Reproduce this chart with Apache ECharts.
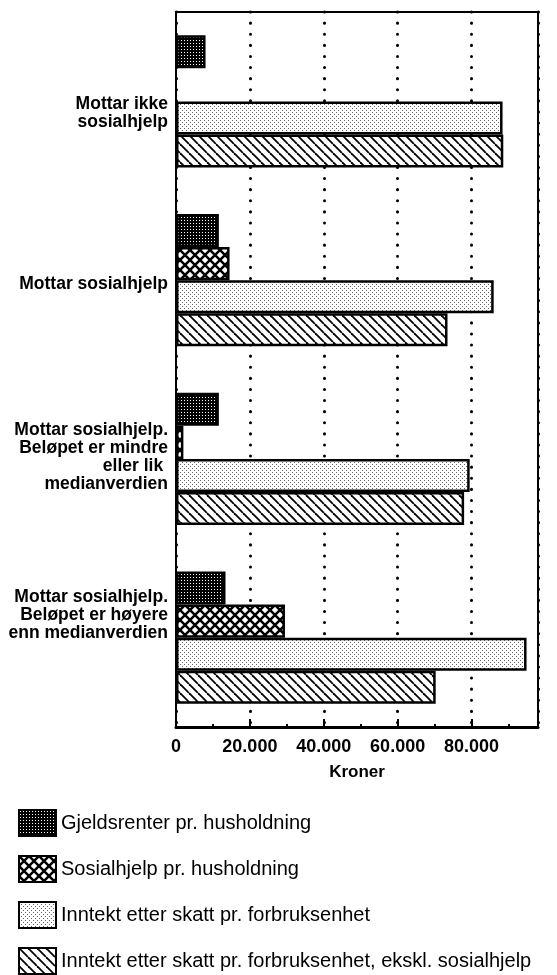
<!DOCTYPE html>
<html>
<head>
<meta charset="utf-8">
<script src="https://cdn.jsdelivr.net/npm/echarts@6/dist/echarts.min.js"></script>
<style>
html, body { margin: 0; padding: 0; background: #fff; }
#chart { width: 557px; height: 975px; }
</style>
</head>
<body>
<div id="chart"></div>
<script>
// kategorier (fra topp til bunn)
const categories = [
    'Mottar ikke\nsosialhjelp',
    'Mottar sosialhjelp',
    'Mottar sosialhjelp.\nBeløpet er mindre\neller lik \nmedianverdien',
    'Mottar sosialhjelp.\nBeløpet er høyere\nenn medianverdien'
]
const seriesNames = [
    'Gjeldsrenter pr. husholdning',
    'Sosialhjelp pr. husholdning',
    'Inntekt etter skatt pr. forbruksenhet',
    'Inntekt etter skatt pr. forbruksenhet, ekskl. sosialhjelp'
]
const gjeldsrenter = [8000, 11600, 11600, 13400]
const sosialhjelp = [null, 14500, 2000, 29500]
const inntekt = [88400, 86000, 79500, 94900]
const inntektEkskl = [88600, 73500, 78000, 70300]
const tickLabels = ['0', '20.000', '40.000', '60.000', '80.000']

// mønster-fyll (rasterert som i trykket)
const makePattern = (type) => {
    const c = document.createElement('canvas')
    const ctx = c.getContext('2d')
    if (type === 'dark') {
        c.width = 3; c.height = 3
        ctx.fillStyle = '#000'
        ctx.fillRect(0, 0, 3, 3)
        ctx.fillStyle = '#fff'
        ctx.fillRect(1, 1, 1, 1)
    } else if (type === 'light') {
        c.width = 4; c.height = 4
        ctx.fillStyle = '#fff'
        ctx.fillRect(0, 0, 4, 4)
        ctx.fillStyle = '#666'
        ctx.fillRect(0, 0, 1, 1)
        ctx.fillRect(2, 2, 1, 1)
    } else if (type === 'cross') {
        c.width = 10; c.height = 10
        ctx.fillStyle = '#fff'
        ctx.fillRect(0, 0, 10, 10)
        ctx.strokeStyle = '#000'
        ctx.lineWidth = 2.5
        for (let k = -10; k <= 10; k += 10) {
            ctx.beginPath()
            ctx.moveTo(k, 0); ctx.lineTo(k + 10, 10)
            ctx.moveTo(k + 10, 0); ctx.lineTo(k, 10)
            ctx.stroke()
        }
    } else {
        c.width = 9; c.height = 9
        ctx.fillStyle = '#fff'
        ctx.fillRect(0, 0, 9, 9)
        ctx.strokeStyle = '#000'
        ctx.lineWidth = 1.8
        for (let k = -9; k <= 9; k += 9) {
            ctx.beginPath()
            ctx.moveTo(k, 0); ctx.lineTo(k + 9, 9)
            ctx.stroke()
        }
    }
    return { image: c, repeat: 'repeat' }
}

const patterns = [makePattern('dark'), makePattern('cross'), makePattern('light'), makePattern('hatch')]
const dataList = [gjeldsrenter, sosialhjelp, inntekt, inntektEkskl]

// etikettene står ikke midt i båndet i originalen (forskyvning i px, + = ned)
const labelShift = [12, 4, -2, -22]
const labelRich = {
    t: { fontSize: 17.5, fontWeight: 'bold', color: '#000', lineHeight: 18, align: 'right' },
}
labelShift.forEach((s, i) => {
    labelRich['g' + i] = { fontSize: 1, lineHeight: Math.abs(s) * 2, align: 'right' }
})
const labelFormatter = (value, index) => {
    const lines = value.split('\n').map(l => '{t|' + l + '}')
    const s = labelShift[index]
    if (s > 0) lines.unshift('{g' + index + '| }')
    else if (s < 0) lines.push('{g' + index + '| }')
    return lines.join('\n')
}

const chart = echarts.init(document.getElementById('chart'), null, { renderer: 'canvas' })

const option = {
    backgroundColor: '#fff',
    animation: false,
    textStyle: {
        fontFamily: 'Liberation Sans, Arial, sans-serif',
        color: '#000',
    },
    grid: {
        left: 176,
        top: 12,
        width: 362,
        height: 715,
        show: true,
        borderColor: '#000',
        borderWidth: 2,
    },
    legend: {
        orient: 'vertical',
        left: 18,
        top: 809,
        height: 170,
        padding: 0,
        icon: 'rect',
        itemWidth: 37,
        itemHeight: 26,
        itemGap: 18,
        data: seriesNames,
        textStyle: {
            fontSize: 20,
            color: '#000',
        },
    },
    xAxis: {
        type: 'value',
        min: 0,
        max: 98000,
        interval: 20000,
        name: 'Kroner',
        nameLocation: 'middle',
        nameGap: 37,
        nameTextStyle: {
            fontSize: 17,
            fontWeight: 'bold',
            color: '#000',
        },
        axisLine: {
            show: true,
            lineStyle: { color: '#000', width: 3 },
        },
        axisTick: {
            show: true,
            inside: true,
            length: 8,
            lineStyle: { color: '#000', width: 2 },
        },
        minorTick: {
            show: true,
            splitNumber: 2,
            length: 3,
            lineStyle: { color: '#000', width: 2 },
        },
        axisLabel: {
            fontSize: 18,
            fontWeight: 'bold',
            color: '#000',
            margin: 11,
            formatter: (v) => {
                const i = Math.round(v / 20000)
                return (v % 20000 === 0 && i < tickLabels.length) ? tickLabels[i] : ''
            },
        },
        splitLine: {
            show: true,
            lineStyle: {
                color: '#000',
                width: 3,
                type: [0.1, 11],
                cap: 'round',
            },
        },
    },
    yAxis: {
        type: 'category',
        inverse: true,
        data: categories,
        axisLine: { show: false },
        axisTick: { show: false },
        axisLabel: {
            align: 'right',
            margin: 8,
            formatter: labelFormatter,
            rich: labelRich,
        },
    },
    series: seriesNames.map((name, i) => ({
        name: name,
        type: 'bar',
        data: dataList[i],
        barGap: 0,
        barCategoryGap: '26%',
        itemStyle: {
            color: patterns[i],
            borderColor: '#000',
            borderWidth: 2.5,
        },
    })),
}

chart.setOption(option)
window.addEventListener('resize', () => {
    chart.resize()
})
</script>
</body>
</html>
